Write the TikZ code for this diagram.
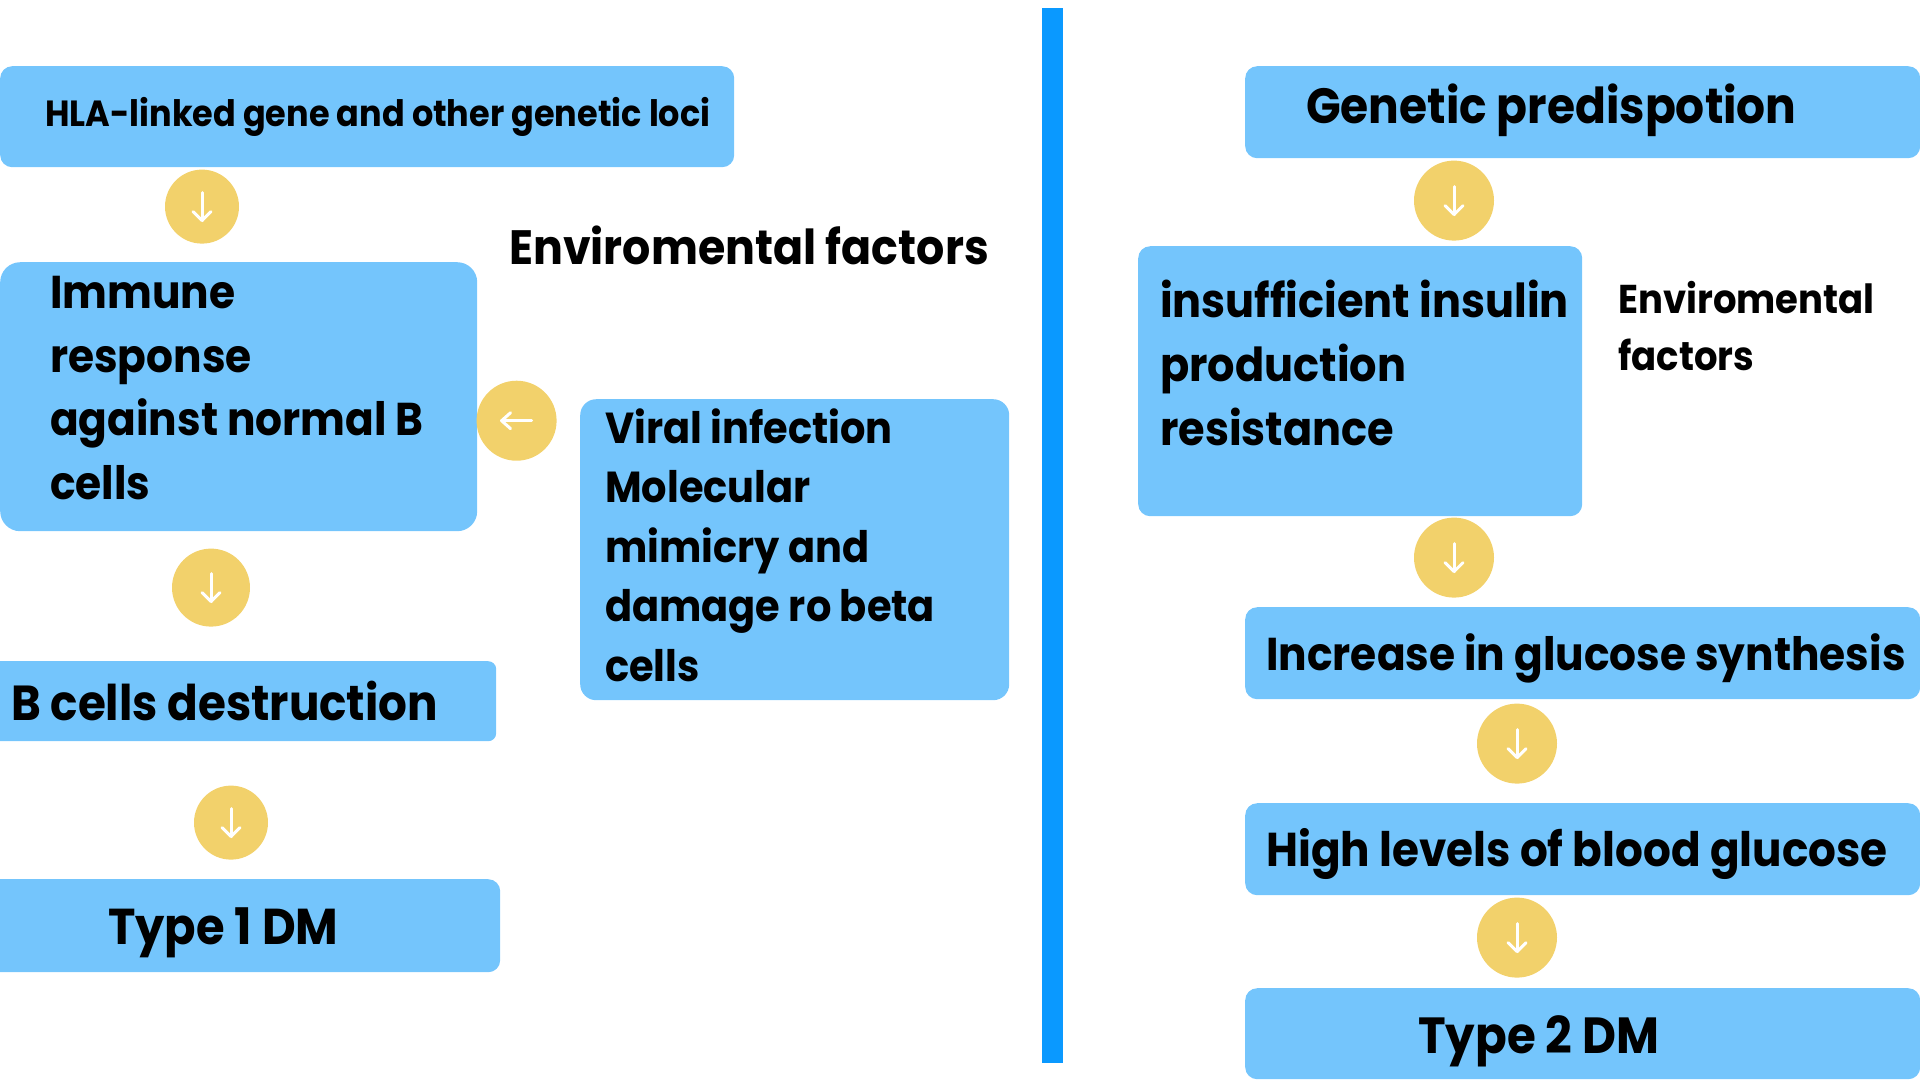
\documentclass[tikz,border=0pt]{standalone}
\usepackage{fontspec}
\setmainfont{Poppins}[FakeStretch=0.92]
\usetikzlibrary{positioning}
\definecolor{boxblue}{HTML}{74C5FC}
\definecolor{barblue}{HTML}{0A99FF}
\definecolor{dotyellow}{HTML}{F2D16B}
\tikzstyle{BlueBox}=[rectangle, fill=boxblue, rounded corners=12pt, anchor=north west, inner sep=0pt]
\tikzstyle{ArrowDot}=[circle, fill=dotyellow, minimum size=80pt, inner sep=0pt]
\tikzstyle{SmallDot}=[ArrowDot, minimum size=74pt]
\tikzstyle{BoxText}=[anchor=base west, inner sep=0pt, align=left, font=\fontsize{46}{63.5}\selectfont\bfseries]
\tikzstyle{Flecha}=[white, line width=3pt, line cap=round]
\newcommand{\downhead}[1]{
	\draw[Flecha] ([yshift=14pt]#1.center) -- ([yshift=-14pt]#1.center);
	\draw[Flecha, line join=round] ([xshift=-9pt,yshift=-5pt]#1.center) -- ([yshift=-14pt]#1.center) -- ([xshift=9pt,yshift=-5pt]#1.center);
}

\begin{document}
\begin{tikzpicture}[x=1pt,y=-1pt]
			\useasboundingbox (0,0) rectangle (1920,1080);

			%Cajas
			\node[BlueBox, minimum width=734pt, minimum height=101pt]	(hla)		at (0,66)		{};
			\node[BlueBox, minimum width=477pt, minimum height=269pt, rounded corners=20pt]	(immune)	at (0,262)		{};
			\node[BlueBox, minimum width=429pt, minimum height=301pt, rounded corners=16pt]	(viral)		at (580,399)	{};
			\node[BlueBox, minimum width=516pt, minimum height=80pt, rounded corners=8pt]	(bcells)	at (-20,661)	{};
			\node[BlueBox, minimum width=520pt, minimum height=93pt]	(type1)		at (-20,879)	{};
			\node[BlueBox, minimum width=675pt, minimum height=92pt]	(genetic)	at (1245,66)	{};
			\node[BlueBox, minimum width=444pt, minimum height=270pt]	(insulin)	at (1138,246)	{};
			\node[BlueBox, minimum width=675pt, minimum height=92pt]	(glucose)	at (1245,607)	{};
			\node[BlueBox, minimum width=675pt, minimum height=92pt]	(blood)		at (1245,803)	{};
			\node[BlueBox, minimum width=675pt, minimum height=91pt]	(type2)		at (1245,988)	{};

			%Barra
			\node[rectangle, fill=barblue, anchor=north west, inner sep=0pt, minimum width=21pt, minimum height=1055pt] (bar) at (1042,8) {};

			%Circulos
			\node[SmallDot]	(dot1)	[below=2pt of hla.south west, xshift=202pt]		{};
			\node[ArrowDot, minimum size=78pt]	(dot2)	[below=17pt of immune.south west, xshift=211pt]	{};
			\node[SmallDot]	(dot3)	[below=44pt of bcells.south west, xshift=251pt]	{};
			\node[ArrowDot]	(dot4)	[right=-1pt of immune.east, yshift=-24pt]		{};
			\node[ArrowDot]	(dot5)	[below=2pt of genetic.south west, xshift=209pt]	{};
			\node[ArrowDot]	(dot6)	[below=1pt of insulin.south west, xshift=316pt]	{};
			\node[ArrowDot]	(dot7)	[below=4pt of glucose.south west, xshift=272pt]	{};
			\node[ArrowDot]	(dot8)	[below=2pt of blood.south west, xshift=272pt]	{};

			%Textos
			\node[BoxText, font=\fontsize{36.4}{40}\selectfont\bfseries]	(hla_txt)	at (45,126)		{HLA-linked gene and other genetic loci};
			\node[BoxText, font=\fontsize{48.2}{50}\selectfont\bfseries]	(env_left)	at (509,264)	{Enviromental factors};
			\node[BoxText, font=\fontsize{46}{63.5}\selectfont\bfseries]	(immune_txt)	at (50,499)		{Immune\\response\\against normal B\\cells};
			\node[BoxText, font=\fontsize{43.4}{59.5}\selectfont\bfseries]	(viral_txt)	at (605,681)	{Viral infection\\Molecular\\mimicry and\\damage ro beta\\cells};
			\node[BoxText, font=\fontsize{49.2}{50}\selectfont\bfseries]	(bcells_txt)	at (11,720)		{B cells destruction};
			\node[BoxText, font=\fontsize{50.4}{52}\selectfont\bfseries]	(type1_txt)		at (108,944)	{Type 1 DM};
			\node[BoxText, font=\fontsize{49.5}{52}\selectfont\bfseries]	(genetic_txt)	at (1306,123)	{Genetic predispotion};
			\node[BoxText, font=\fontsize{46.8}{64}\selectfont\bfseries]	(insulin_txt)	at (1160,445)	{insufficient insulin\\production\\resistance};
			\node[BoxText, font=\fontsize{40.2}{57}\selectfont\bfseries]	(env_right)	at (1618,370)	{Enviromental\\factors};
			\node[BoxText]	(glucose_txt)	at (1266,670)	{Increase in glucose synthesis};
			\node[BoxText, font=\fontsize{47.5}{50}\selectfont\bfseries]	(blood_txt)		at (1266,866)	{High levels of blood glucose};
			\node[BoxText, font=\fontsize{50.8}{52}\selectfont\bfseries]	(type2_txt)		at (1418,1053)	{Type 2 DM};

			%Lineas
			\downhead{dot1}
			\downhead{dot2}
			\downhead{dot3}
			\downhead{dot5}
			\downhead{dot6}
			\downhead{dot7}
			\downhead{dot8}
			\draw[Flecha] ([xshift=15pt]dot4.center) -- ([xshift=-15pt]dot4.center);
			\draw[Flecha, line join=round] ([xshift=-6pt,yshift=-8pt]dot4.center) -- ([xshift=-15pt]dot4.center) -- ([xshift=-6pt,yshift=8pt]dot4.center);

		\end{tikzpicture}
\end{document}
